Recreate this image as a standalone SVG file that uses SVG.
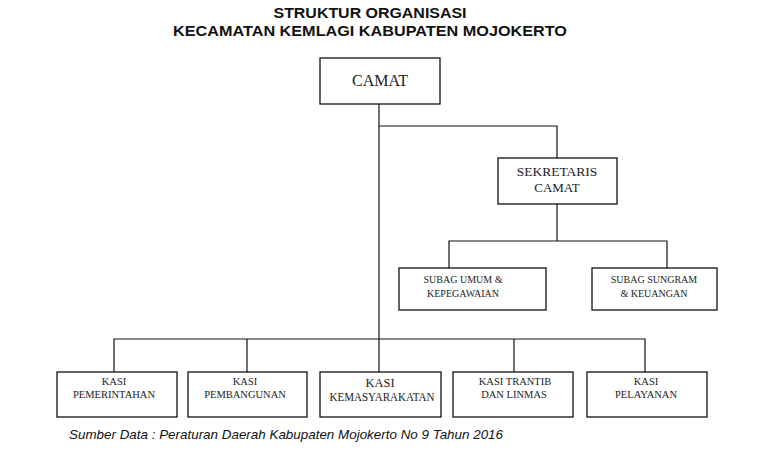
<svg xmlns="http://www.w3.org/2000/svg" width="768" height="464" viewBox="0 0 768 464">
<style>
.box{fill:#fff;stroke:#111;stroke-width:1.3}
.ln{fill:none;stroke:#111;stroke-width:1.2}
.t{font-family:"Liberation Serif","Times New Roman",serif;fill:#222;text-anchor:middle}
.title{font-family:"Liberation Sans",Arial,sans-serif;font-weight:bold;fill:#111;font-size:14px;text-anchor:middle}
.foot{font-family:"Liberation Sans",Arial,sans-serif;font-style:italic;fill:#111;font-size:13px}
</style>
<rect width="768" height="464" fill="#fff"/>
<text class="title" x="370" y="18" textLength="193" lengthAdjust="spacingAndGlyphs">STRUKTUR ORGANISASI</text>
<text class="title" x="370" y="36" textLength="394" lengthAdjust="spacingAndGlyphs">KECAMATAN KEMLAGI KABUPATEN MOJOKERTO</text>
<g id="connectors">
<path class="ln" d="M379,104 V372"/>
<path class="ln" d="M379,126 H557 V158"/>
<path class="ln" d="M557,204 V241"/>
<path class="ln" d="M449,268 V241 H667 V268"/>
<path class="ln" d="M114,372 V339 H645 V372"/>
<path class="ln" d="M247,339 V372"/>
<path class="ln" d="M514,339 V372"/>
</g>
<g id="camat">
<rect class="box" x="320" y="58" width="120" height="46"/>
<text class="t" x="380" y="86" font-size="16">CAMAT</text>
</g>
<g id="sekretaris">
<rect class="box" x="498" y="158" width="119" height="46"/>
<text class="t" x="557" y="176" font-size="13.5">SEKRETARIS</text>
<text class="t" x="557" y="192" font-size="13">CAMAT</text>
</g>
<g id="subag-umum">
<rect class="box" x="399" y="268" width="147" height="42"/>
<text class="t" x="463" y="283" font-size="10">SUBAG UMUM &amp;</text>
<text class="t" x="463" y="297" font-size="10">KEPEGAWAIAN</text>
</g>
<g id="subag-sungram">
<rect class="box" x="592" y="268" width="125" height="42"/>
<text class="t" x="654" y="283" font-size="10">SUBAG SUNGRAM</text>
<text class="t" x="654" y="297" font-size="10">&amp; KEUANGAN</text>
</g>
<g id="kasi-pemerintahan">
<rect class="box" x="57" y="372" width="120" height="45"/>
<text class="t" x="114" y="385" font-size="10.5">KASI</text>
<text class="t" x="114" y="398" font-size="10.5">PEMERINTAHAN</text>
</g>
<g id="kasi-pembangunan">
<rect class="box" x="188" y="372" width="119" height="45"/>
<text class="t" x="245" y="385" font-size="10.5">KASI</text>
<text class="t" x="245" y="398" font-size="10.5">PEMBANGUNAN</text>
</g>
<g id="kasi-kemasyarakatan">
<rect class="box" x="320" y="372" width="121" height="45"/>
<text class="t" x="380" y="387" font-size="12.5">KASI</text>
<text class="t" x="382" y="401" font-size="12" textLength="105" lengthAdjust="spacingAndGlyphs">KEMASYARAKATAN</text>
</g>
<g id="kasi-trantib">
<rect class="box" x="453" y="372" width="120" height="45"/>
<text class="t" x="515" y="385" font-size="10.5">KASI TRANTIB</text>
<text class="t" x="514" y="398" font-size="10.5">DAN LINMAS</text>
</g>
<g id="kasi-pelayanan">
<rect class="box" x="587" y="372" width="120" height="45"/>
<text class="t" x="646" y="385" font-size="10.5">KASI</text>
<text class="t" x="646" y="398" font-size="10.5">PELAYANAN</text>
</g>
<text class="foot" x="69" y="439" textLength="434" lengthAdjust="spacingAndGlyphs">Sumber Data : Peraturan Daerah Kabupaten Mojokerto No 9 Tahun 2016</text>
</svg>
